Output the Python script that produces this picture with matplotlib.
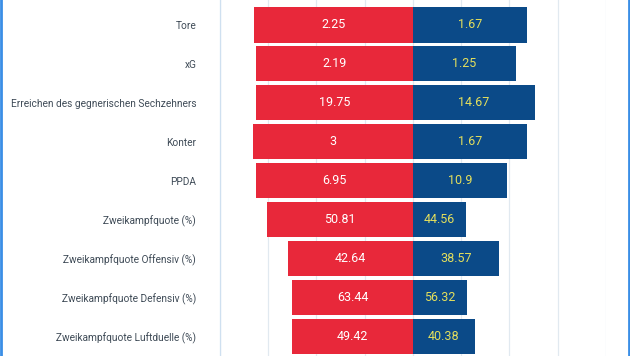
import matplotlib
matplotlib.use('Agg')
import matplotlib.pyplot as plt
from matplotlib.lines import Line2D

plt.rcParams['font.family'] = ['Roboto', 'DejaVu Sans']

categories = ['Tore', 'xG', 'Erreichen des gegnerischen Sechzehners', 'Konter', 'PPDA',
              'Zweikampfquote (%)', 'Zweikampfquote Offensiv (%)',
              'Zweikampfquote Defensiv (%)', 'Zweikampfquote Luftduelle (%)']
home_values = ['2.25', '2.19', '19.75', '3', '6.95', '50.81', '42.64', '63.44', '49.42']
away_values = ['1.67', '1.25', '14.67', '1.67', '10.9', '44.56', '38.57', '56.32', '40.38']
# bar lengths as drawn (scaled per row in the original)
home_len = [3.30, 3.25, 3.25, 3.32, 3.25, 3.03, 2.59, 2.50, 2.50]
away_len = [2.37, 2.13, 2.53, 2.37, 1.95, 1.11, 1.78, 1.13, 1.29]

red = '#e8283a'
blue = '#0b4a88'

fig = plt.figure(figsize=(6.3, 3.56), dpi=100)
ax = fig.add_axes([219.8 / 630, 0, 386 / 630, 1])

y = list(range(len(categories)))
ax.barh(y, [-v for v in home_len], height=0.9, color=red, zorder=3)
ax.barh(y, away_len, height=0.9, color=blue, zorder=3)

for i in y:
    ax.text(-home_len[i] / 2, i, home_values[i], color='white', fontsize=9,
            ha='center', va='center', zorder=4)
    ax.text(away_len[i] / 2, i, away_values[i], color='#e4df5c', fontsize=9,
            ha='center', va='center', zorder=4)

ax.set_xlim(-4, 4)
ax.set_ylim(8.49, -0.64)
ax.set_xticks(range(-4, 5))
ax.set_xticklabels([])
ax.tick_params(axis='x', length=0)
ax.grid(axis='x', color='#e1e9f0', linewidth=0.9, zorder=0)
ax.set_yticks(y)
ax.set_yticklabels(categories, fontsize=7.25, color='#3f4b57')
ax.tick_params(axis='y', length=0, pad=17)
for s in ['top', 'bottom', 'right']:
    ax.spines[s].set_visible(False)
ax.spines['left'].set_color('#cfe0f0')
ax.spines['left'].set_linewidth(0.9)

# outer frame edges
fig.add_artist(Line2D([1 / 630, 1 / 630], [0, 1], color='#3a8ee6', linewidth=2))
fig.add_artist(Line2D([628.5 / 630, 628.5 / 630], [0, 1], color='#3a8ee6', linewidth=2))

fig.savefig('out.png', dpi=100)
